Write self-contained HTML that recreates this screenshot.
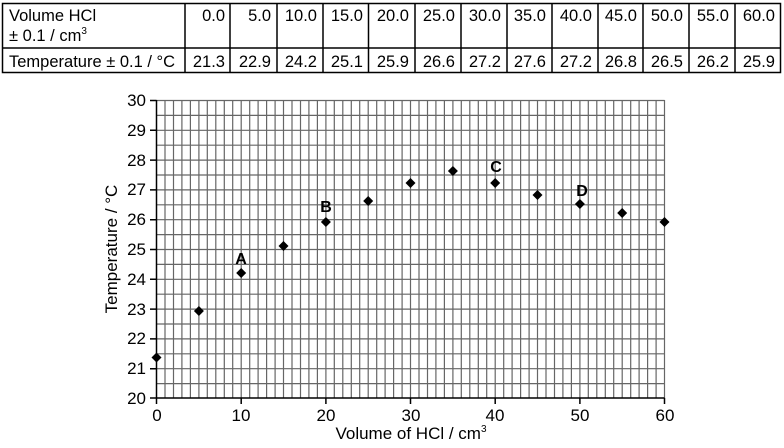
<!DOCTYPE html>
<html><head><meta charset="utf-8"><style>
body{margin:0;background:#fff;width:784px;height:443px;overflow:hidden;font-family:"Liberation Sans",Arial,sans-serif}
</style></head><body>
<svg width="784" height="443" xmlns="http://www.w3.org/2000/svg" font-family="Liberation Sans, Arial, sans-serif">
<rect x="0" y="0" width="784" height="443" fill="#fff"/>
<g stroke="#000" stroke-width="1.5" fill="none">
<rect x="2.5" y="3.5" width="778" height="69"/>
<line x1="2.5" y1="48" x2="780.5" y2="48"/>
<line x1="185" y1="3.5" x2="185" y2="72.5"/>
<line x1="230" y1="3.5" x2="230" y2="72.5"/>
<line x1="277" y1="3.5" x2="277" y2="72.5"/>
<line x1="323" y1="3.5" x2="323" y2="72.5"/>
<line x1="368.5" y1="3.5" x2="368.5" y2="72.5"/>
<line x1="415" y1="3.5" x2="415" y2="72.5"/>
<line x1="461" y1="3.5" x2="461" y2="72.5"/>
<line x1="507" y1="3.5" x2="507" y2="72.5"/>
<line x1="552" y1="3.5" x2="552" y2="72.5"/>
<line x1="598" y1="3.5" x2="598" y2="72.5"/>
<line x1="643" y1="3.5" x2="643" y2="72.5"/>
<line x1="689" y1="3.5" x2="689" y2="72.5"/>
<line x1="735" y1="3.5" x2="735" y2="72.5"/>
</g>
<g font-size="16.5" fill="#000">
<text x="9" y="21">Volume HCl</text>
<text x="9" y="41">± 0.1 / cm<tspan font-size="10" dy="-7">3</tspan></text>
<text x="9" y="67">Temperature ± 0.1 / °C</text>
</g>
<g font-size="16.5" fill="#000" text-anchor="end">
<text x="225" y="21">0.0</text><text x="271" y="21">5.0</text><text x="317" y="21">10.0</text><text x="363" y="21">15.0</text><text x="409" y="21">20.0</text><text x="455" y="21">25.0</text><text x="501" y="21">30.0</text><text x="546" y="21">35.0</text><text x="592" y="21">40.0</text><text x="637" y="21">45.0</text><text x="683" y="21">50.0</text><text x="729" y="21">55.0</text><text x="775" y="21">60.0</text>
<text x="225" y="67">21.3</text><text x="271" y="67">22.9</text><text x="317" y="67">24.2</text><text x="363" y="67">25.1</text><text x="409" y="67">25.9</text><text x="455" y="67">26.6</text><text x="501" y="67">27.2</text><text x="546" y="67">27.6</text><text x="592" y="67">27.2</text><text x="637" y="67">26.8</text><text x="683" y="67">26.5</text><text x="729" y="67">26.2</text><text x="775" y="67">25.9</text>
</g>
<g stroke="#666" stroke-width="1.2">
<path d="
M165.0 100V398 M173.5 100V398 M181.9 100V398 M190.4 100V398 M198.9 100V398 M207.3 100V398 M215.8 100V398 M224.3 100V398 M232.7 100V398 M241.2 100V398
M249.7 100V398 M258.1 100V398 M266.6 100V398 M275.1 100V398 M283.5 100V398 M292.0 100V398 M300.5 100V398 M308.9 100V398 M317.4 100V398 M325.9 100V398
M334.3 100V398 M342.8 100V398 M351.3 100V398 M359.7 100V398 M368.2 100V398 M376.7 100V398 M385.1 100V398 M393.6 100V398 M402.1 100V398 M410.5 100V398
M419.0 100V398 M427.5 100V398 M435.9 100V398 M444.4 100V398 M452.9 100V398 M461.3 100V398 M469.8 100V398 M478.3 100V398 M486.7 100V398 M495.2 100V398
M503.7 100V398 M512.1 100V398 M520.6 100V398 M529.1 100V398 M537.5 100V398 M546.0 100V398 M554.5 100V398 M562.9 100V398 M571.4 100V398 M579.9 100V398
M588.3 100V398 M596.8 100V398 M605.3 100V398 M613.7 100V398 M622.2 100V398 M630.7 100V398 M639.1 100V398 M647.6 100V398 M656.1 100V398 M664.5 100V398
M156.5 100.5H664.5 M156.5 115.4H664.5 M156.5 130.3H664.5 M156.5 145.2H664.5 M156.5 160.1H664.5 M156.5 175H664.5 M156.5 189.9H664.5 M156.5 204.8H664.5
M156.5 219.7H664.5 M156.5 234.6H664.5 M156.5 249.5H664.5 M156.5 264.4H664.5 M156.5 279.3H664.5 M156.5 294.2H664.5 M156.5 309.1H664.5 M156.5 324H664.5
M156.5 338.9H664.5 M156.5 353.8H664.5 M156.5 368.7H664.5 M156.5 383.6H664.5"/>
</g>
<g stroke="#000" stroke-width="1.5">
<line x1="156.5" y1="100" x2="156.5" y2="398"/>
<line x1="150" y1="398" x2="664.5" y2="398"/>
<path d="M150 100.5H156.5 M150 130.3H156.5 M150 160.1H156.5 M150 189.9H156.5 M150 219.7H156.5 M150 249.5H156.5 M150 279.3H156.5 M150 309.1H156.5 M150 338.9H156.5 M150 368.7H156.5 M156.5 398V404 M241.2 398V404 M325.9 398V404 M410.5 398V404 M495.2 398V404 M579.9 398V404 M664.5 398V404"/>
</g>
<g font-size="17" fill="#000" text-anchor="end">
<text x="146" y="106">30</text><text x="146" y="136">29</text><text x="146" y="166">28</text><text x="146" y="195">27</text><text x="146" y="225">26</text><text x="146" y="255">25</text><text x="146" y="285">24</text><text x="146" y="315">23</text><text x="146" y="344">22</text><text x="146" y="374">21</text><text x="146" y="404">20</text>
</g>
<g font-size="17" fill="#000" text-anchor="middle">
<text x="157" y="421">0</text><text x="241" y="421">10</text><text x="326" y="421">20</text><text x="411" y="421">30</text><text x="495" y="421">40</text><text x="580" y="421">50</text><text x="665" y="421">60</text>
<text x="411" y="439">Volume of HCl / cm<tspan font-size="10" dy="-7">3</tspan></text>
<text transform="translate(117,249) rotate(-90)">Temperature / °C</text>
</g>
<g fill="#000">
<path d="M156.5 352.5l5 5-5 5-5-5z"/>
<path d="M198.9 306l5 5-5 5-5-5z"/>
<path d="M241.2 268l5 5-5 5-5-5z"/>
<path d="M283.5 241l5 5-5 5-5-5z"/>
<path d="M325.9 217l5 5-5 5-5-5z"/>
<path d="M368.2 196l5 5-5 5-5-5z"/>
<path d="M410.5 178l5 5-5 5-5-5z"/>
<path d="M452.9 166l5 5-5 5-5-5z"/>
<path d="M495.2 178l5 5-5 5-5-5z"/>
<path d="M537.5 190l5 5-5 5-5-5z"/>
<path d="M579.9 199l5 5-5 5-5-5z"/>
<path d="M622.2 208l5 5-5 5-5-5z"/>
<path d="M664.5 217l5 5-5 5-5-5z"/>
</g>
<g font-size="16" font-weight="bold" fill="#000" text-anchor="middle">
<text x="241" y="264">A</text><text x="326" y="212">B</text><text x="496" y="172">C</text><text x="582" y="196">D</text>
</g>
</svg>
</body></html>
